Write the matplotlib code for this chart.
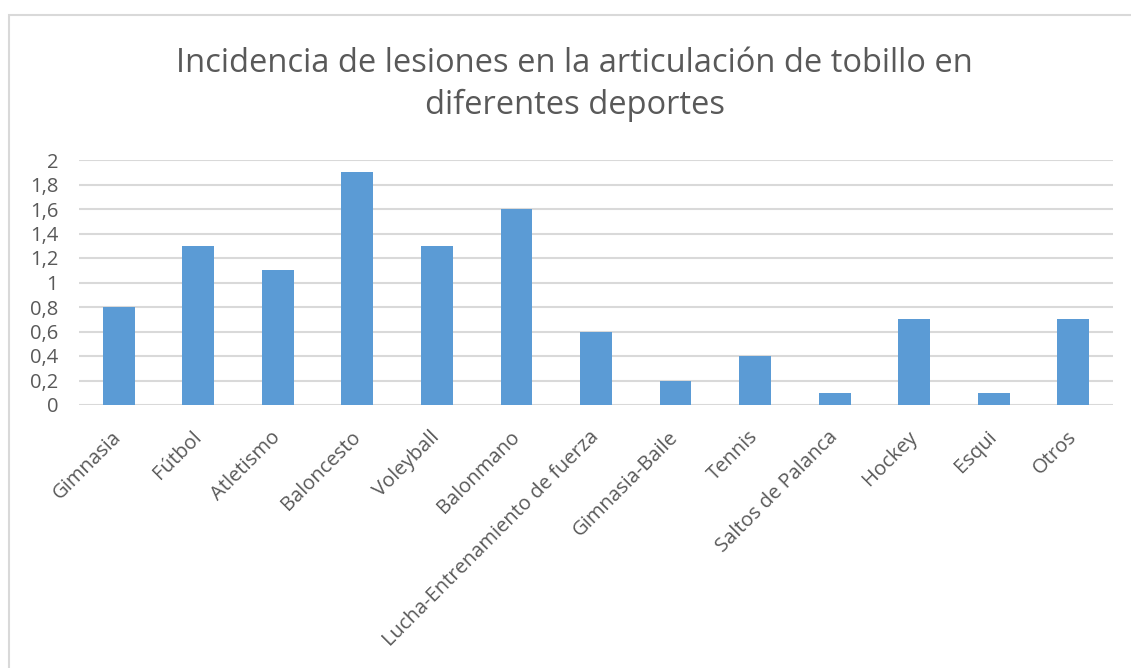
import matplotlib.pyplot as plt
from matplotlib.patches import Rectangle
from matplotlib.ticker import FuncFormatter

# Datos del gráfico
deportes = ['Gimnasia', 'Fútbol', 'Atletismo', 'Baloncesto', 'Voleyball', 'Balonmano',
            'Lucha-Entrenamiento de fuerza', 'Gimnasia-Baile', 'Tennis', 'Saltos de Palanca',
            'Hockey', 'Esqui', 'Otros']
incidencia = [0.8, 1.3, 1.1, 1.9, 1.3, 1.6, 0.6, 0.2, 0.4, 0.1, 0.7, 0.1, 0.7]
ticks_y = [0, 0.2, 0.4, 0.6, 0.8, 1.0, 1.2, 1.4, 1.6, 1.8, 2.0]

plt.rcParams['font.family'] = ['Open Sans', 'DejaVu Sans']
gris = '#595959'

fig = plt.figure(figsize=(11.31, 6.68), dpi=100)
ax = fig.add_axes([79 / 1131, 1 - 405 / 668, (1113 - 79) / 1131, (405 - 160) / 668])

# Borde del área del gráfico (se corta por la derecha y abajo)
fig.patches.append(Rectangle((9 / 1131, -0.1), 1.2, 1 - 15 / 668 + 0.1,
                             transform=fig.transFigure, fill=False,
                             edgecolor='#D9D9D9', linewidth=1.5))

x = range(len(deportes))
ax.bar(x, incidencia, width=0.4, color='#5B9BD5', zorder=3)

ax.set_xlim(-0.5, len(deportes) - 0.5)
ax.set_ylim(0, 2)
ax.set_yticks(ticks_y)
ax.yaxis.set_major_formatter(FuncFormatter(lambda v, p: f'{v:g}'.replace('.', ',')))
ax.grid(axis='y', color='#D9D9D9', linewidth=1.5, zorder=0)
for s in ax.spines.values():
    s.set_visible(False)
ax.tick_params(axis='both', length=0, colors=gris, labelsize=14.5)
ax.tick_params(axis='y', pad=15)
ax.set_xticks(list(x))
ax.set_xticklabels(deportes, rotation=45, ha='right', va='center', rotation_mode='anchor')
ax.tick_params(axis='x', pad=21)

fig.text(0.508, 1 - 63 / 668, 'Incidencia de lesiones en la articulación de tobillo en',
         ha='center', va='center', fontsize=23.5, color=gris)
fig.text(0.508, 1 - 105 / 668, 'diferentes deportes',
         ha='center', va='center', fontsize=23.5, color=gris)

fig.savefig('out.png', dpi=100)
